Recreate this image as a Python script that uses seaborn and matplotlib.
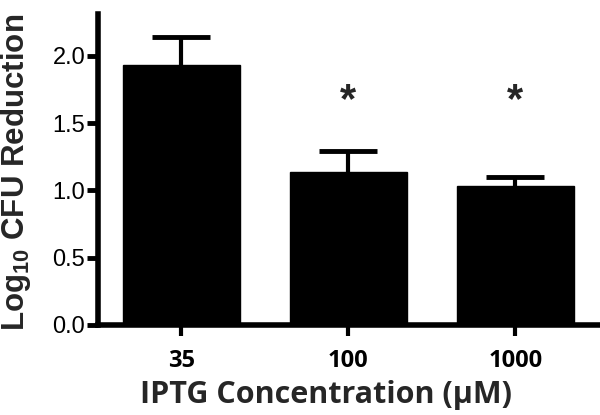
import matplotlib
matplotlib.use('Agg')
import numpy as np
import pandas as pd
import matplotlib.pyplot as plt
import seaborn as sns

# === DONNÉES ===
concentrations = ["35", "100", "1000"]
reduction = [1.93, 1.14, 1.03]
sem = [0.21, 0.15, 0.07]
significatif = [False, True, True]

df = pd.DataFrame({"conc": concentrations, "red": reduction})

# === STYLE ===
sns.set_theme(style="ticks")
plt.rcParams["font.family"] = ["Liberation Sans", "DejaVu Sans"]
plt.rcParams["mathtext.fontset"] = "custom"
plt.rcParams["mathtext.bf"] = "Liberation Sans:bold"
plt.rcParams["mathtext.rm"] = "Liberation Sans:bold"

fig = plt.figure(figsize=(6, 4.15), dpi=100)
ax = fig.add_axes([0.163, 0.217, 0.835, 0.749])

sns.barplot(data=df, x="conc", y="red", color="black", saturation=1,
            width=0.7, errorbar=None, ax=ax)
for p in ax.patches:
    p.set_edgecolor("black")

# barres d'erreur (seulement vers le haut)
x = np.arange(len(concentrations))
eb = ax.errorbar(x, reduction, yerr=[np.zeros(len(sem)), sem], fmt="none",
                 ecolor="black", elinewidth=3, capsize=21, capthick=3.5)
eb[1][0].set_visible(False)  # pas de chapeau en bas

# étoiles de significativité
for i, sig in enumerate(significatif):
    if sig:
        ax.text(i, 1.66, "*", ha="center", va="center", fontsize=30,
                fontweight="bold", family=["Liberation Sans"])

ax.set_xlim(-0.5, 2.5)
ax.set_ylim(0, 2.31)
ax.set_yticks([0, 0.5, 1.0, 1.5, 2.0])
ax.set_yticklabels(["0.0", "0.5", "1.0", "1.5", "2.0"])

for s in ["top", "right"]:
    ax.spines[s].set_visible(False)
for s in ["left", "bottom"]:
    ax.spines[s].set_linewidth(4)
    ax.spines[s].set_color("black")

ax.tick_params(axis="y", length=8, width=3.5, labelsize=17, pad=1, colors="black")
ax.tick_params(axis="x", length=8, width=3, labelsize=17, pad=9, colors="black")
for lab in ax.get_xticklabels():
    lab.set_family(["Open Sans", "DejaVu Sans"])
    lab.set_fontweight("bold")

ax.set_xlabel("IPTG Concentration (µM)", fontsize=22, fontweight="bold",
              family=["Open Sans", "DejaVu Sans"])
ax.xaxis.set_label_coords(0.455, -0.178)
ax.set_ylabel(r"Log$_{\mathbf{10}}$ CFU Reduction", fontsize=22.5,
              fontweight="bold")
ax.yaxis.set_label_coords(-0.13, 0.49)

plt.savefig("out.png", dpi=100)
